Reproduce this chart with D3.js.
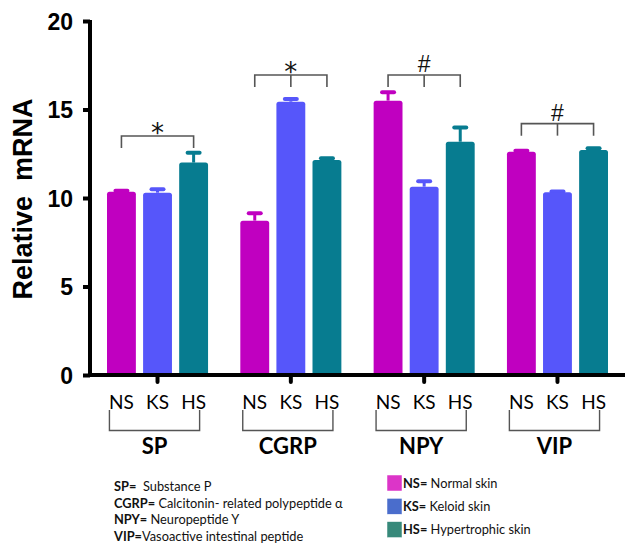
<!DOCTYPE html>
<html><head><meta charset="utf-8">
<script src="https://cdn.jsdelivr.net/npm/d3@7"></script>
<style>body{margin:0;background:#fff} text{white-space:pre}</style>
</head><body><svg id="c" width="627" height="543"></svg>
<script>
const groups = ["SP","CGRP","NPY","VIP"];
const skins = ["NS","KS","HS"];
const nsMean = [10.36, 8.72, 15.5, 12.62];
const ksMean = [10.3, 15.44, 10.64, 10.32];
const hsMean = [12.0, 12.15, 13.18, 12.71];
const nsErr = [0.05, 0.42, 0.47, 0.05];
const ksErr = [0.2, 0.15, 0.3, 0.05];
const hsErr = [0.55, 0.1, 0.8, 0.1];
const yTicks = [0, 5, 10, 15, 20];
const sigLevel = [13.5, 16.95, 16.95, 14.2];
const sigMark = ["*", "*", "#", "#"];
const sigMiddle = [false, true, true, true];
const abbrevTerms = ["SP=", "CGRP=", "NPY=", "VIP="];
const abbrevNames = ["  Substance P", " Calcitonin- related polypeptide \u03B1", " Neuropeptide Y", "Vasoactive intestinal peptide"];
const legendTerms = ["NS=", "KS=", "HS="];
const legendNames = [" Normal skin", " Keloid skin", " Hypertrophic skin"];

const means = {NS: nsMean, KS: ksMean, HS: hsMean};
const errs = {NS: nsErr, KS: ksErr, HS: hsErr};
const barColor = {NS: "#c000c0", KS: "#5656fa", HS: "#077c90"};
const legendColor = {NS: "#dc35c8", KS: "#4a6dcc", HS: "#37897a"};

const svg = d3.select("#c");
const y = d3.scaleLinear().domain([0, 20]).range([375, 21]);
const x0 = d3.scaleBand().domain(groups).range([107, 608]).paddingInner(0.242).paddingOuter(0);
const x1 = d3.scaleBand().domain(skins).range([0, x0.bandwidth()]).paddingInner(0.2).paddingOuter(0);
const cx = (g, s) => x0(g) + x1(s) + x1.bandwidth() / 2;

const rows = [];
groups.forEach((g, i) => skins.forEach(s => rows.push({g, s, v: means[s][i], e: errs[s][i]})));

// error bars
const eb = svg.append("g");
rows.forEach(d => {
  const c = cx(d.g, d.s);
  eb.append("line").attr("x1", c).attr("x2", c).attr("y1", y(d.v)).attr("y2", y(d.v + d.e))
    .attr("stroke", barColor[d.s]).attr("stroke-width", 3);
  eb.append("line").attr("x1", c - 6).attr("x2", c + 6).attr("y1", y(d.v + d.e)).attr("y2", y(d.v + d.e))
    .attr("stroke", barColor[d.s]).attr("stroke-width", 4).attr("stroke-linecap", "round");
});
// bars
svg.append("g").selectAll("rect").data(rows).join("rect")
  .attr("x", d => x0(d.g) + x1(d.s)).attr("width", x1.bandwidth())
  .attr("y", d => y(d.v)).attr("height", d => y(0) - y(d.v) + 2)
  .attr("rx", 2.5).attr("fill", d => barColor[d.s]);

// y axis
const yAxis = svg.append("g").attr("transform", "translate(90,0)")
  .call(d3.axisLeft(y).tickValues(yTicks).tickSize(7).tickPadding(10));
yAxis.select(".domain").remove();
yAxis.selectAll(".tick line").attr("stroke", "#000").attr("stroke-width", 4);
yAxis.selectAll(".tick text").attr("font-family", "Liberation Sans, Arial, sans-serif")
  .attr("font-weight", "bold").attr("font-size", 23).attr("fill", "#000").attr("dy", "0.36em");
svg.append("line").attr("x1", 90).attr("x2", 90).attr("y1", y(20) - 1).attr("y2", y(0) + 2)
  .attr("stroke", "#000").attr("stroke-width", 4);

// x axis
svg.append("line").attr("x1", 88).attr("x2", 625).attr("y1", y(0)).attr("y2", y(0))
  .attr("stroke", "#000").attr("stroke-width", 4);
groups.forEach(g => {
  const c = cx(g, "KS");
  svg.append("line").attr("x1", c).attr("x2", c).attr("y1", y(0)).attr("y2", y(0) + 7)
    .attr("stroke", "#000").attr("stroke-width", 4).attr("stroke-linecap", "round");
});

// y label
svg.append("text").attr("transform", "translate(32,199) rotate(-90)").attr("text-anchor", "middle")
  .attr("font-family", "Liberation Sans, Arial, sans-serif").attr("font-weight", "bold")
  .attr("font-size", 27).attr("fill", "#000").text("Relative  mRNA");

// significance brackets
groups.forEach((g, i) => {
  const a = cx(g, "NS"), b = cx(g, "HS"), m = cx(g, "KS");
  const yy = y(sigLevel[i]);
  const br = svg.append("g").attr("stroke", "#555").attr("stroke-width", 1.6).attr("fill", "none");
  br.append("path").attr("d", `M${a},${yy + 12}V${yy}H${b}V${yy + 12}`);
  if (sigMiddle[i]) br.append("path").attr("d", `M${m},${yy}V${yy + 12}`);
  const isStar = sigMark[i] === "*";
  svg.append("text").attr("x", m).attr("y", isStar ? yy + 6 : yy - 3)
    .attr("text-anchor", "middle")
    .attr("font-family", isStar ? "DejaVu Sans, sans-serif" : "Liberation Sans, Arial, sans-serif")
    .attr("font-size", isStar ? 26 : 23).attr("fill", "#111").text(sigMark[i]);
});

// category labels under axis
const lab = svg.append("g").attr("font-family", "Lato, sans-serif").attr("fill", "#000");
rows.forEach(d => {
  lab.append("text").attr("x", cx(d.g, d.s)).attr("y", 408.5).attr("text-anchor", "middle")
    .attr("font-size", 19).text(d.s);
});
groups.forEach(g => {
  const a = cx(g, "NS") - 12, b = cx(g, "HS") + 6;
  svg.append("path").attr("d", `M${a},410V430.5H${b}V410`).attr("fill", "none")
    .attr("stroke", "#555").attr("stroke-width", 1.4);
  lab.append("text").attr("x", (a + b) / 2).attr("y", 454).attr("text-anchor", "middle")
    .attr("font-size", 22).attr("font-weight", "bold").text(g);
});

// abbreviation notes
const notes = svg.append("g").attr("font-family", "Lato, sans-serif").attr("font-size", 12.8).attr("fill", "#111");
abbrevTerms.forEach((t, i) => {
  const tx = notes.append("text").attr("x", 114).attr("y", 491 + i * 16.7);
  tx.append("tspan").attr("font-weight", "bold").text(t);
  tx.append("tspan").text(abbrevNames[i]);
});

// legend
const leg = svg.append("g").attr("font-family", "Lato, sans-serif").attr("font-size", 12.8).attr("fill", "#111");
skins.forEach((s, i) => {
  const yy = 475 + i * 23.3;
  leg.append("rect").attr("x", 387).attr("y", yy).attr("width", 15).attr("height", 16)
    .attr("fill", legendColor[s]).attr("stroke", "#fff").attr("stroke-width", 0.5);
  const tx = leg.append("text").attr("x", 403).attr("y", yy + 12.5);
  tx.append("tspan").attr("font-weight", "bold").text(legendTerms[i]);
  tx.append("tspan").text(legendNames[i]);
});
</script></body></html>
